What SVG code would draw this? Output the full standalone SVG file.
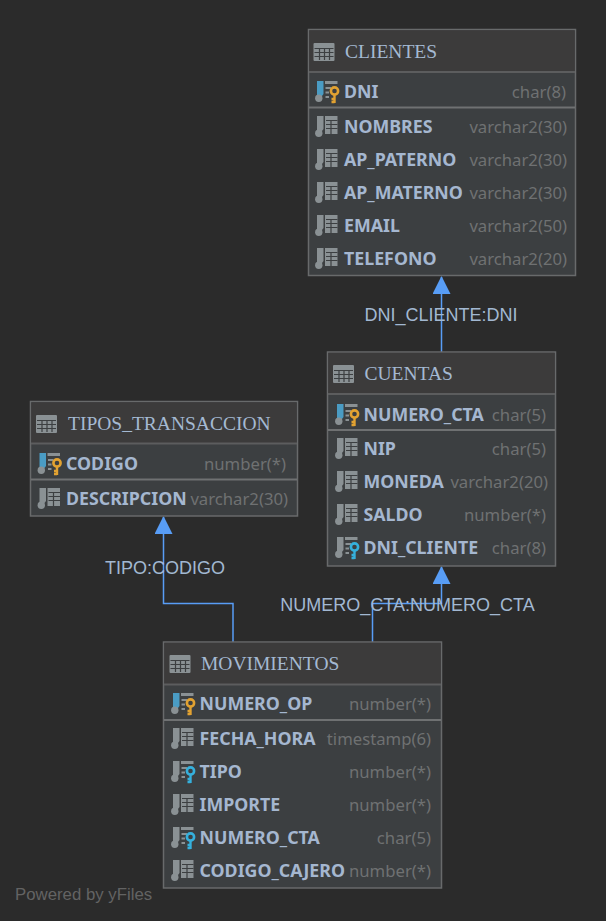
<svg xmlns="http://www.w3.org/2000/svg" width="606" height="921" viewBox="0 0 606 921">
<style>
.box{fill:#3c3f41;stroke:#686a6b;stroke-width:1.5}
.head{fill:#3c3b3b}
.sep{stroke:#5c5d5e;stroke-width:2;fill:none}
.sep2{stroke:#6f7172;stroke-width:2;fill:none}
.title{font:19.500px "Liberation Serif",serif;fill:#a4b9d2}
.f{font:bold 17.800px "Noto Sans",sans-serif;fill:#a5b7d0}
.t{font:16.700px "Noto Sans",sans-serif;fill:#6f7172;text-anchor:end}
.lbl{font:18px "Liberation Sans",sans-serif;fill:#a2b8d2;text-anchor:middle}
.edge{fill:none;stroke:#589df6;stroke-width:1.5}
.pow{font:16.800px "Liberation Sans",sans-serif;fill:#636363}
</style>
<defs>
<marker id="arr" markerUnits="userSpaceOnUse" markerWidth="18" markerHeight="18" refX="17" refY="9" orient="auto"><path d="M0 0L18 9L0 18Z" fill="#589df6"/></marker>
<g id="tbl"><rect width="21" height="18" rx="1" fill="#8a9194"/><path d="M1 5.500H20M1 9.500H20M1 13.500H20M6 5.500V17M11 5.500V17M16 5.500V17" stroke="#3c3f41" stroke-width="1.200" fill="none"/></g>
<g id="col"><path d="M2 0H8.500V13L7 15H2Z" fill="#8a9194"/><circle cx="3.800" cy="17.300" r="3.700" fill="#8a9194"/><path d="M10 0H22.500V18H10Z" fill="#8a9194"/><path d="M11 4.500H22.500M11 8.500H22.500M11 12.500H22.500M16 4.500V18" stroke="#3c3f41" stroke-width="1.200" fill="none"/></g>
<g id="pk"><path d="M2 0H8.500V13L7 15H2Z" fill="#4a9cc4"/><circle cx="3.800" cy="17.300" r="3.700" fill="#8a9194"/><path d="M10 0H22.500V3H10ZM10.500 6H16V8H10.500ZM10.500 10.500H14V12.500H10.500ZM10.500 15H14V17H10.500Z" fill="#8a9194"/><circle cx="19.500" cy="10" r="3.600" fill="none" stroke="#e2a231" stroke-width="2.600"/><path d="M19.500 13V22M19.500 18H16.500M19.500 21H16.500" stroke="#e2a231" stroke-width="2.400" fill="none"/></g>
<g id="fk"><path d="M2 0H8.500V13L7 15H2Z" fill="#8a9194"/><circle cx="3.800" cy="17.300" r="3.700" fill="#8a9194"/><path d="M10 0H22.500V3H10ZM10.500 6H16V8H10.500ZM10.500 10.500H14V12.500H10.500ZM10.500 15H14V17H10.500Z" fill="#8a9194"/><circle cx="19.500" cy="10" r="3.600" fill="none" stroke="#35b0dc" stroke-width="2.600"/><path d="M19.500 13V22M19.500 18H16.500M19.500 21H16.500" stroke="#35b0dc" stroke-width="2.400" fill="none"/></g>
</defs>
<rect width="606" height="921" fill="#2b2b2b"/>
<g id="connectors">
<path class="edge" d="M441.500 352V277" marker-end="url(#arr)"/>
<path class="edge" d="M233 642V603.500H163.500V517" marker-end="url(#arr)"/>
<path class="edge" d="M372.500 642V603.500H441.500V567" marker-end="url(#arr)"/>
<text class="lbl" x="441" y="321">DNI_CLIENTE:DNI</text>
<text class="lbl" x="165" y="574">TIPO:CODIGO</text>
<text class="lbl" x="407.500" y="611">NUMERO_CTA:NUMERO_CTA</text>
</g>
<g id="CLIENTES">
<rect class="box" x="308.500" y="29.500" width="267" height="246"/>
<rect class="head" x="309.300" y="30.300" width="265.400" height="41.700"/>
<path class="sep" d="M309 72H575"/><path class="sep2" d="M309 107.500H575"/>
<use href="#tbl" x="313.500" y="43"/>
<text class="title" x="345" y="58">CLIENTES</text>
<use href="#pk" x="315" y="81"/><text class="f" x="344" y="98">DNI</text><text class="t" x="566" y="98">char(8)</text>
<use href="#col" x="315" y="116"/><text class="f" x="344" y="133">NOMBRES</text><text class="t" x="567" y="133">varchar2(30)</text>
<use href="#col" x="315" y="149"/><text class="f" x="344" y="166">AP_PATERNO</text><text class="t" x="567" y="166">varchar2(30)</text>
<use href="#col" x="315" y="182"/><text class="f" x="344" y="199">AP_MATERNO</text><text class="t" x="567" y="199">varchar2(30)</text>
<use href="#col" x="315" y="215"/><text class="f" x="344" y="232">EMAIL</text><text class="t" x="567" y="232">varchar2(50)</text>
<use href="#col" x="315" y="248"/><text class="f" x="344" y="265">TELEFONO</text><text class="t" x="567" y="265">varchar2(20)</text>
</g>
<g id="CUENTAS">
<rect class="box" x="327.500" y="352" width="228" height="214"/>
<rect class="head" x="328.300" y="352.800" width="226.400" height="41.200"/>
<path class="sep" d="M328 394H555"/><path class="sep2" d="M328 430H555"/>
<use href="#tbl" x="333" y="365"/>
<text class="title" x="364.500" y="380">CUENTAS</text>
<use href="#pk" x="335" y="404"/><text class="f" x="363.500" y="421">NUMERO_CTA</text><text class="t" x="546" y="421">char(5)</text>
<use href="#col" x="335" y="438"/><text class="f" x="363.500" y="455">NIP</text><text class="t" x="546" y="455">char(5)</text>
<use href="#col" x="335" y="471"/><text class="f" x="363.500" y="488">MONEDA</text><text class="t" x="548" y="488">varchar2(20)</text>
<use href="#col" x="335" y="504"/><text class="f" x="363.500" y="521">SALDO</text><text class="t" x="546" y="521">number(*)</text>
<use href="#fk" x="335" y="537"/><text class="f" x="363.500" y="554">DNI_CLIENTE</text><text class="t" x="546" y="554">char(8)</text>
</g>
<g id="TIPOS_TRANSACCION">
<rect class="box" x="30.500" y="401.500" width="267" height="114.500"/>
<rect class="head" x="31.300" y="402.300" width="265.400" height="40.700"/>
<path class="sep" d="M31 443.500H297"/><path class="sep2" d="M31 479.500H297"/>
<use href="#tbl" x="36" y="415"/>
<text class="title" x="68" y="430">TIPOS_TRANSACCION</text>
<use href="#pk" x="37.500" y="453"/><text class="f" x="66" y="470">CODIGO</text><text class="t" x="286" y="470">number(*)</text>
<use href="#col" x="37.500" y="488"/><text class="f" x="66" y="505">DESCRIPCION</text><text class="t" x="288" y="505">varchar2(30)</text>
</g>
<g id="MOVIMIENTOS">
<rect class="box" x="163.500" y="642" width="278" height="246"/>
<rect class="head" x="164.300" y="642.800" width="276.400" height="41.200"/>
<path class="sep" d="M164 684.500H441"/><path class="sep2" d="M164 720H441"/>
<use href="#tbl" x="169.500" y="655"/>
<text class="title" x="201" y="670">MOVIMIENTOS</text>
<use href="#pk" x="171" y="693"/><text class="f" x="199.500" y="710">NUMERO_OP</text><text class="t" x="431" y="710">number(*)</text>
<use href="#col" x="171" y="728"/><text class="f" x="199.500" y="745">FECHA_HORA</text><text class="t" x="431" y="745">timestamp(6)</text>
<use href="#fk" x="171" y="761"/><text class="f" x="199.500" y="778">TIPO</text><text class="t" x="431" y="778">number(*)</text>
<use href="#col" x="171" y="794"/><text class="f" x="199.500" y="811">IMPORTE</text><text class="t" x="431" y="811">number(*)</text>
<use href="#fk" x="171" y="827"/><text class="f" x="199.500" y="844">NUMERO_CTA</text><text class="t" x="431" y="844">char(5)</text>
<use href="#col" x="171" y="860"/><text class="f" x="199.500" y="877">CODIGO_CAJERO</text><text class="t" x="431" y="877">number(*)</text>
</g>
<text class="pow" x="15" y="900">Powered by yFiles</text>
</svg>
